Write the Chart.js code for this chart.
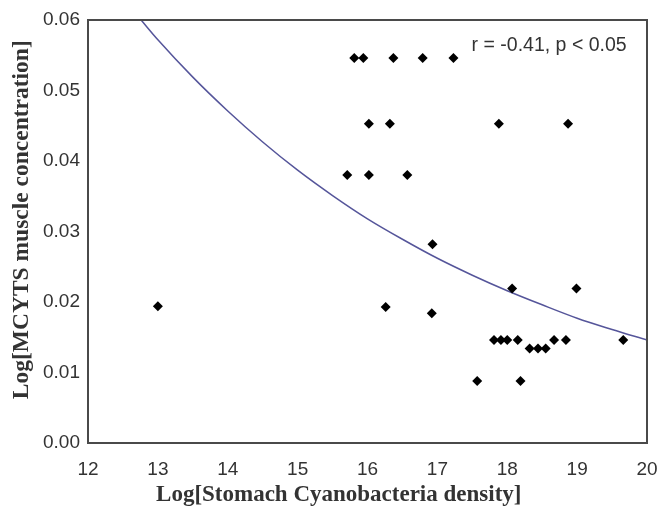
<!DOCTYPE html>
<html>
<head>
<meta charset="utf-8">
<script src="https://cdn.jsdelivr.net/npm/chart.js@4/dist/chart.umd.min.js"></script>
<style>
html,body{margin:0;padding:0;background:#fff;}
#wrap{width:657px;height:509px;position:relative;}
</style>
</head>
<body>
<div id="wrap"><canvas id="c" width="657" height="509"></canvas></div>
<script>
// Observed points (x = Log stomach cyanobacteria density, y = Log MCYTS muscle concentration)
const pointX = [13.00, 15.81, 15.94, 16.37, 16.79, 17.23, 16.02, 16.32, 17.88, 18.87,
                15.71, 16.02, 16.57, 16.93, 16.26, 16.92, 18.07, 18.99,
                17.81, 17.91, 18.00, 18.15, 18.67, 18.84, 19.66,
                18.32, 18.44, 18.55, 17.57, 18.19];
const pointY = [0.0194, 0.0546, 0.0546, 0.0546, 0.0546, 0.0546, 0.0453, 0.0453, 0.0453, 0.0453,
                0.0380, 0.0380, 0.0380, 0.0282, 0.0193, 0.0184, 0.0219, 0.0219,
                0.0146, 0.0146, 0.0146, 0.0146, 0.0146, 0.0146, 0.0146,
                0.0134, 0.0134, 0.0134, 0.0088, 0.0088];
// Fitted curve
const curveX = [12.76, 13.0, 13.5, 14.0, 14.5, 15.0, 15.5, 16.0, 16.5, 17.0, 17.5, 18.0, 18.5, 19.0, 19.5, 20.0];
const curveY = [0.0600, 0.0572, 0.0519, 0.0471, 0.0427, 0.0387, 0.0351, 0.0318, 0.0289, 0.0262, 0.0238, 0.0216, 0.0196, 0.0177, 0.0161, 0.0146];
const xTicks = [12, 13, 14, 15, 16, 17, 18, 19, 20];
const yTicks = [0.00, 0.01, 0.02, 0.03, 0.04, 0.05, 0.06];
const statText = "r = -0.41, p < 0.05";
const xTitle = "Log[Stomach Cyanobacteria density]";
const yTitle = "Log[MCYTS muscle concentration]";

const scatterData = pointX.map((x, i) => ({x: x, y: pointY[i]}));
const curveData = curveX.map((x, i) => ({x: x, y: curveY[i]}));

const framePlugin = {
  id: 'frame',
  afterDatasetsDraw(chart) {
    const {ctx, chartArea: a} = chart;
    ctx.save();
    ctx.strokeStyle = '#4a4a4a';
    ctx.lineWidth = 2;
    ctx.strokeRect(a.left, a.top, a.right - a.left, a.bottom - a.top);
    ctx.restore();
  },
  afterDraw(chart) {
    const {ctx} = chart;
    const xs = chart.scales.x, ys = chart.scales.y;
    ctx.save();
    ctx.font = '19.5px "Liberation Sans", Arial, sans-serif';
    ctx.fillStyle = '#333';
    ctx.textBaseline = 'middle';
    ctx.textAlign = 'left';
    ctx.fillText(statText, xs.getPixelForValue(17.49), ys.getPixelForValue(0.0563));
    ctx.restore();
  }
};

new Chart(document.getElementById('c'), {
  type: 'scatter',
  data: {
    datasets: [
      {
        label: 'points',
        data: scatterData,
        pointStyle: 'rectRot',
        pointRadius: 5,
        pointHoverRadius: 5,
        backgroundColor: '#000',
        borderColor: '#000',
        borderWidth: 0,
        order: 1
      },
      {
        label: 'fit',
        data: curveData,
        showLine: true,
        pointRadius: 0,
        borderColor: '#55559a',
        borderWidth: 1.5,
        tension: 0.4,
        cubicInterpolationMode: 'monotone',
        fill: false,
        order: 2
      }
    ]
  },
  options: {
    responsive: false,
    animation: false,
    devicePixelRatio: 1,
    layout: {padding: {top: 20, right: 10, left: 0, bottom: 0}},
    plugins: {legend: {display: false}, tooltip: {enabled: false}},
    scales: {
      x: {
        type: 'linear',
        min: 12, max: 20,
        afterBuildTicks: s => { s.ticks = xTicks.map(v => ({value: v})); },
        afterFit: s => { s.height = 66; s.paddingLeft = 0; s.paddingRight = 0; },
        grid: {display: false, drawTicks: false},
        border: {display: false},
        ticks: {
          padding: 15,
          color: '#333',
          font: {family: '"Liberation Sans", Arial, sans-serif', size: 19},
          callback: v => String(v)
        },
        title: {
          display: true,
          text: xTitle + '          ',
          color: '#333',
          font: {family: '"Liberation Serif", "Times New Roman", serif', size: 23, weight: 'bold'},
          padding: {top: 1, bottom: 0}
        }
      },
      y: {
        type: 'linear',
        min: 0, max: 0.06,
        afterBuildTicks: s => { s.ticks = yTicks.map(v => ({value: v})); },
        afterFit: s => { s.width = 88; s.paddingTop = 0; s.paddingBottom = 0; },
        grid: {display: false, drawTicks: false},
        border: {display: false},
        ticks: {
          padding: 8,
          color: '#333',
          font: {family: '"Liberation Sans", Arial, sans-serif', size: 19},
          callback: v => Number(v).toFixed(2)
        },
        title: {
          display: true,
          text: '    ' + yTitle,
          color: '#333',
          font: {family: '"Liberation Serif", "Times New Roman", serif', size: 23.5, weight: 'bold'},
          padding: {top: 8, bottom: 0}
        }
      }
    }
  },
  plugins: [framePlugin]
});
</script>
</body>
</html>
